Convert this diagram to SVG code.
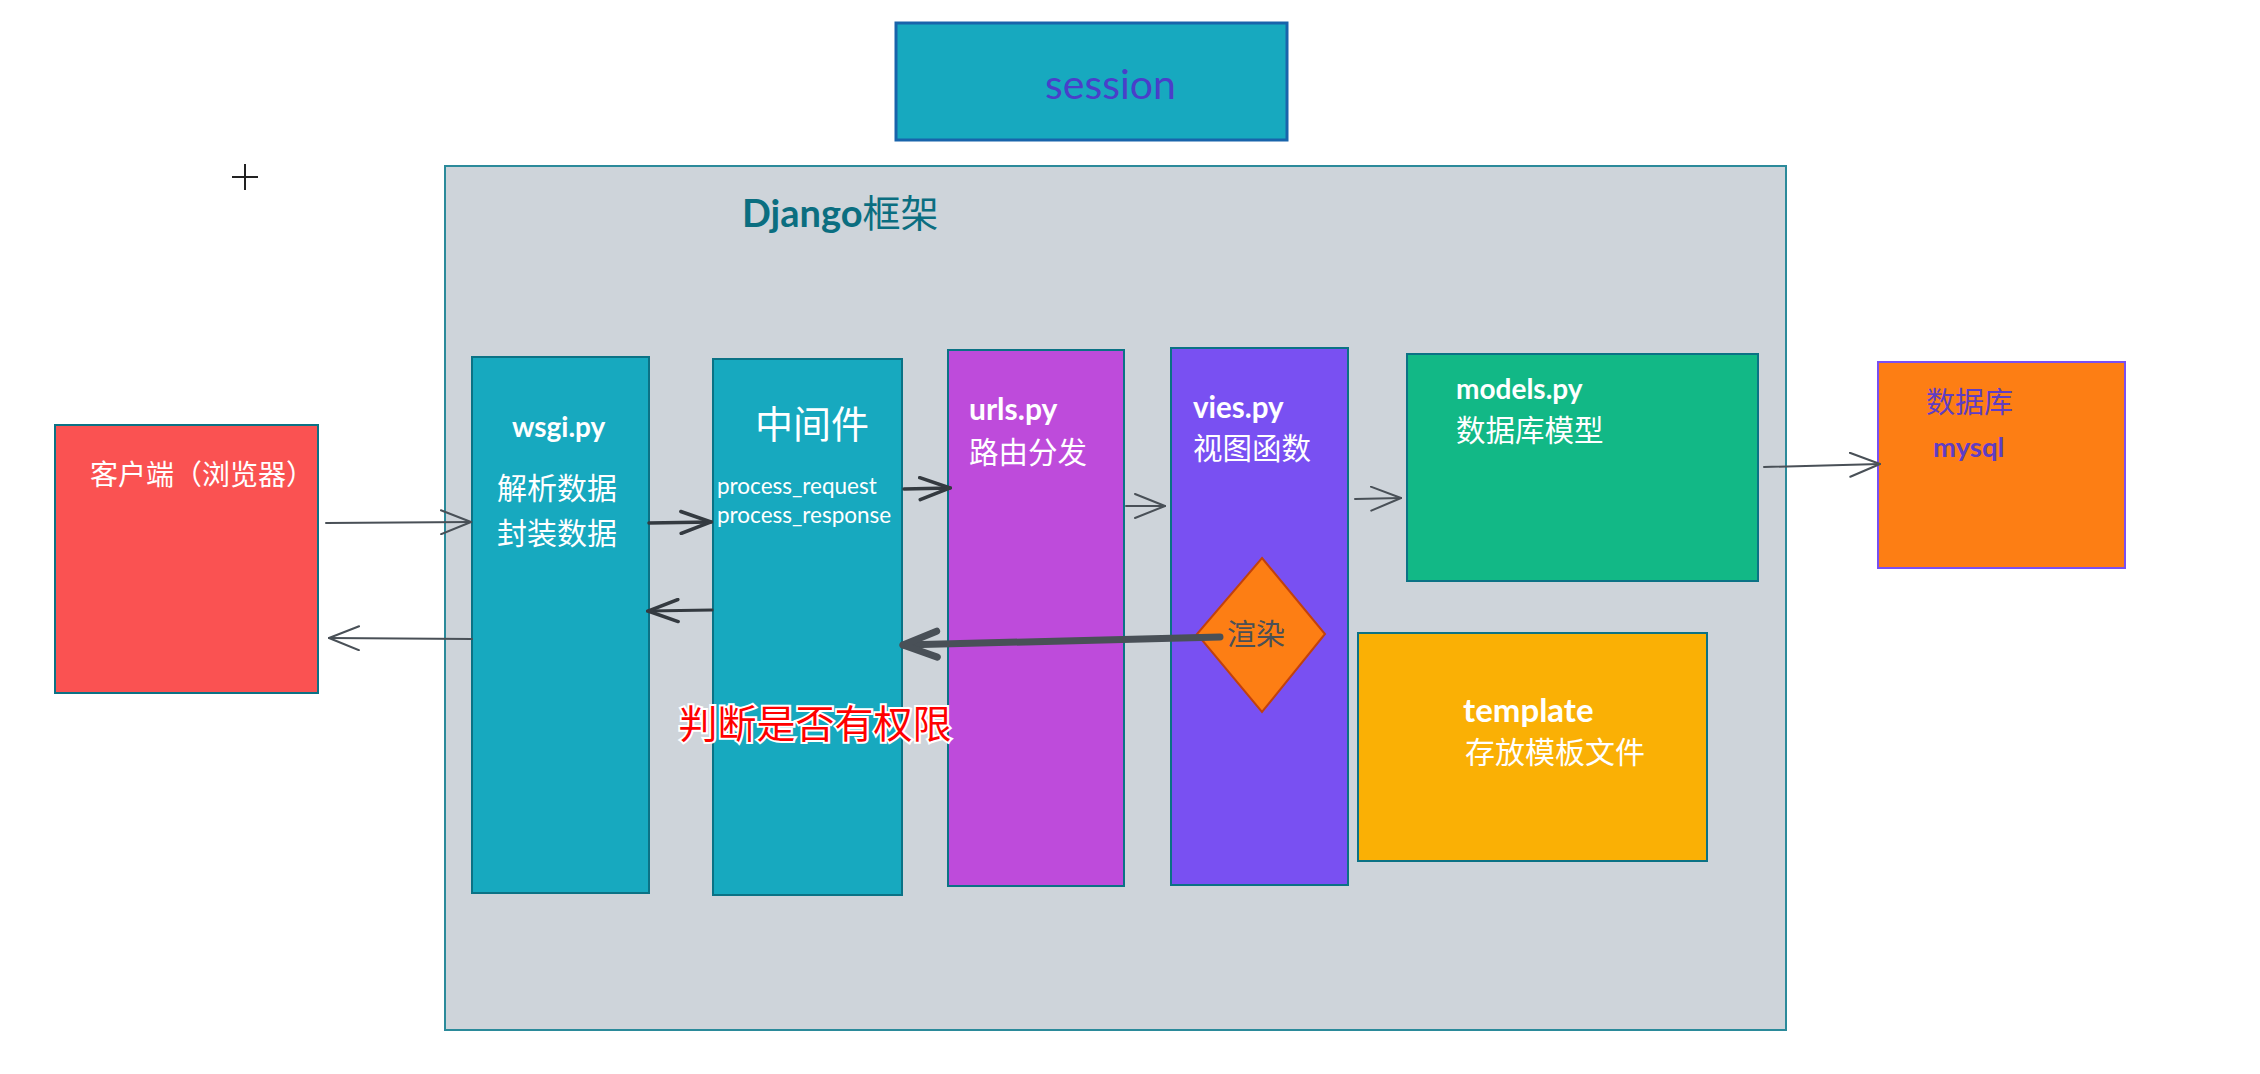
<svg xmlns="http://www.w3.org/2000/svg" width="2260" height="1074" viewBox="0 0 2260 1074">
<style>
.lat{font-family:"Lato","Liberation Sans",sans-serif;}
.cjk{font-family:"Noto Sans CJK SC","Noto Sans",sans-serif;}
.w{fill:#ffffff;}
.box{stroke:#0b7285;stroke-width:2;}
.c{fill:none;stroke:#495057;stroke-linecap:round;}
</style>
<defs>
<marker id="a1" viewBox="0 0 32 26" refX="31" refY="13" markerWidth="32" markerHeight="26" markerUnits="userSpaceOnUse" orient="auto">
<path d="M1,1 L31,13 L1,25" fill="none" stroke="#495057" stroke-width="2" stroke-linecap="round"/>
</marker>
<marker id="a2" viewBox="0 0 34 26" refX="32" refY="13" markerWidth="34" markerHeight="26" markerUnits="userSpaceOnUse" orient="auto">
<path d="M2,2 L32,13 L2,24" fill="none" stroke="#343a40" stroke-width="3.5" stroke-linecap="round"/>
</marker>
<marker id="a3" viewBox="0 0 42 34" refX="38" refY="17" markerWidth="42" markerHeight="34" markerUnits="userSpaceOnUse" orient="auto">
<path d="M4,4 L38,17 L4,30" fill="none" stroke="#495057" stroke-width="7" stroke-linecap="round" stroke-linejoin="round"/>
</marker>
</defs>
<rect width="2260" height="1074" fill="#ffffff"/>

<g id="cursor">
<line x1="245" y1="164" x2="245" y2="190" stroke="#222" stroke-width="2"/>
<line x1="232" y1="177" x2="258" y2="177" stroke="#222" stroke-width="2"/>
</g>

<g id="session">
<rect x="896" y="23" width="391" height="117" fill="#17a9bf" stroke="#1864ab" stroke-width="3"/>
<text x="1045" y="99" class="lat" font-size="41" fill="#4a3fc9">session</text>
</g>

<g id="django">
<rect x="445" y="166" width="1341" height="864" fill="#ced4da" stroke="#2b8a9a" stroke-width="2"/>
<text x="742" y="227" class="lat" font-size="38" font-weight="bold" fill="#0b6e80">Django<tspan class="cjk" font-weight="normal">框架</tspan></text>
</g>

<g id="client">
<rect x="55" y="425" width="263" height="268" fill="#fa5252" class="box"/>
<text x="90" y="485" class="cjk w" font-size="28">客户端（浏览器）</text>
</g>

<g id="wsgi">
<rect x="472" y="357" width="177" height="536" fill="#17a9bf" class="box"/>
<text x="512" y="437" class="lat w" font-size="28" font-weight="bold">wsgi.py</text>
<text x="497" y="499" class="cjk w" font-size="30">解析数据</text>
<text x="497" y="544" class="cjk w" font-size="30">封装数据</text>
</g>

<g id="middleware">
<rect x="713" y="359" width="189" height="536" fill="#17a9bf" class="box"/>
<text x="755" y="438" class="cjk w" font-size="38">中间件</text>
<text x="717" y="494" class="lat w" font-size="22.5">process_request</text>
<text x="717" y="523" class="lat w" font-size="22.5">process_response</text>
</g>

<g id="urls">
<rect x="948" y="350" width="176" height="536" fill="#be4bdb" class="box"/>
<text x="969" y="420" class="lat w" font-size="30" font-weight="bold">urls.py</text>
<text x="969" y="463" class="cjk w" font-size="29.5">路由分发</text>
</g>

<g id="views">
<rect x="1171" y="348" width="177" height="537" fill="#7950f2" class="box"/>
<text x="1193" y="418" class="lat w" font-size="29.5" font-weight="bold">vies.py</text>
<text x="1193" y="459" class="cjk w" font-size="29.5">视图函数</text>
</g>

<g id="models">
<rect x="1407" y="354" width="351" height="227" fill="#12b886" class="box"/>
<text x="1456" y="399" class="lat w" font-size="28" font-weight="bold">models.py</text>
<text x="1456" y="441" class="cjk w" font-size="29.5">数据库模型</text>
</g>

<g id="database">
<rect x="1878" y="362" width="247" height="206" fill="#fd7e14" stroke="#7950f2" stroke-width="2"/>
<text x="1926" y="413" class="cjk" font-size="29" fill="#5f3dc4">数据库</text>
<text x="1933" y="457" class="lat" font-size="27.5" font-weight="bold" fill="#5f3dc4">mysql</text>
</g>

<g id="template">
<rect x="1358" y="633" width="349" height="228" fill="#fab005" class="box"/>
<text x="1463" y="722" class="lat w" font-size="33" font-weight="bold">template</text>
<text x="1465" y="763" class="cjk w" font-size="30">存放模板文件</text>
</g>

<g id="render">
<polygon points="1262,558 1325,634 1262,712 1197,634" fill="#fd7e14" stroke="#c2410c" stroke-width="2"/>
<text x="1256" y="645" class="cjk" font-size="29" fill="#495057" text-anchor="middle">渲染</text>
</g>

<g id="permission">
<text x="815" y="738" class="cjk" font-size="39" fill="#ff0000" stroke="#ffffff" stroke-width="4" paint-order="stroke" text-anchor="middle">判断是否有权限</text>
</g>

<g id="connectors">
<path class="c" d="M326,523 L471,522" stroke-width="2" marker-end="url(#a1)"/>
<path class="c" d="M472,639 L329,638" stroke-width="2" marker-end="url(#a1)"/>
<path d="M649,523 L711,522" fill="none" stroke="#343a40" stroke-width="3.5" stroke-linecap="round" marker-end="url(#a2)"/>
<path d="M712,610 L648,611" fill="none" stroke="#343a40" stroke-width="3" stroke-linecap="round" marker-end="url(#a2)"/>
<path d="M904,489 L950,488" fill="none" stroke="#343a40" stroke-width="3.5" stroke-linecap="round" marker-end="url(#a2)"/>
<path class="c" d="M1126,506 L1165,506" stroke-width="2" marker-end="url(#a1)"/>
<path class="c" d="M1355,499 L1401,498" stroke-width="2" marker-end="url(#a1)"/>
<path class="c" d="M1764,467 L1880,464" stroke-width="2" marker-end="url(#a1)"/>
<path d="M1220,637 L903,645" fill="none" stroke="#495057" stroke-width="7" stroke-linecap="round" marker-end="url(#a3)"/>
</g>
</svg>
